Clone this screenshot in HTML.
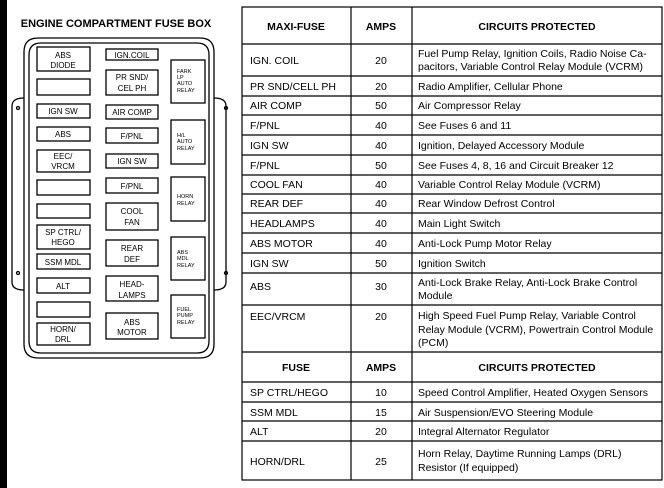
<!DOCTYPE html>
<html><head><meta charset="utf-8"><style>
html,body{margin:0;padding:0;background:#fff;}
svg{display:block;font-family:"Liberation Sans",Arial,sans-serif;}
</style></head><body>
<svg width="664" height="488" viewBox="0 0 664 488" xmlns="http://www.w3.org/2000/svg">
<rect x="0" y="0" width="7" height="488" fill="#000"/>
<text x="116" y="27" font-size="11" font-weight="bold" text-anchor="middle">ENGINE COMPARTMENT FUSE BOX</text>
<g fill="none" stroke="#000" stroke-width="1.3">
<path d="M38 38 H200 Q214 38 214 52 V344 Q214 358 200 358 H38 Q24 358 24 344 V52 Q24 38 38 38 Z"/>
<path d="M41 43 H197 Q209 43 209 55 V341 Q209 353 197 353 H41 Q29 353 29 341 V55 Q29 43 41 43 Z"/>
<path d="M24 98 Q12 98 12 106 V282 Q12 290 24 290"/>
<path d="M214 98 Q226 98 226 106 V282 Q226 290 214 290"/>
<circle cx="18" cy="108" r="1.5"/><circle cx="18" cy="273" r="1.5"/>
<circle cx="226" cy="108" r="1.5"/><circle cx="226" cy="273" r="1.5"/>
<!-- left col -->
<rect x="37" y="47" width="53" height="24"/>
<rect x="37" y="79" width="53" height="16"/>
<rect x="37" y="104" width="53" height="14"/>
<rect x="37" y="127" width="53" height="14"/>
<rect x="37" y="150" width="53" height="22"/>
<rect x="37" y="180" width="53" height="15"/>
<rect x="37" y="204" width="53" height="14"/>
<rect x="37" y="225" width="53" height="24"/>
<rect x="37" y="254" width="53" height="15"/>
<rect x="37" y="278" width="53" height="15"/>
<rect x="37" y="302" width="53" height="15"/>
<rect x="37" y="323" width="53" height="22"/>
<!-- mid col -->
<rect x="106" y="49" width="52" height="11"/>
<rect x="106" y="70" width="52" height="25"/>
<rect x="106" y="105" width="52" height="14"/>
<rect x="106" y="128" width="52" height="15"/>
<rect x="106" y="154" width="52" height="14"/>
<rect x="106" y="178" width="52" height="15"/>
<rect x="106" y="203" width="52" height="27"/>
<rect x="106" y="240" width="52" height="26"/>
<rect x="106" y="276" width="52" height="25"/>
<rect x="106" y="313" width="52" height="26"/>
<!-- relays -->
<rect x="171" y="60" width="34" height="43"/>
<rect x="171" y="120" width="34" height="44"/>
<rect x="171" y="177" width="34" height="44"/>
<rect x="171" y="237" width="34" height="43"/>
<rect x="171" y="295" width="34" height="43"/>
</g>
<g font-size="8" text-anchor="middle">
<text x="63" y="58">ABS</text><text x="63" y="68">DIODE</text>
<text x="63" y="114">IGN SW</text>
<text x="63" y="137">ABS</text>
<text x="63" y="159">EEC/</text><text x="63" y="169">VRCM</text>
<text x="63" y="235">SP CTRL/</text><text x="63" y="245">HEGO</text>
<text x="63" y="265">SSM MDL</text>
<text x="63" y="289">ALT</text>
<text x="63" y="332">HORN/</text><text x="63" y="342">DRL</text>
<text x="132" y="58">IGN.COIL</text>
<text x="132" y="80">PR SND/</text><text x="132" y="91">CEL PH</text>
<text x="132" y="115">AIR COMP</text>
<text x="132" y="139">F/PNL</text>
<text x="132" y="164">IGN SW</text>
<text x="132" y="189">F/PNL</text>
<text x="132" y="214">COOL</text><text x="132" y="225">FAN</text>
<text x="132" y="251">REAR</text><text x="132" y="262">DEF</text>
<text x="132" y="287">HEAD-</text><text x="132" y="298">LAMPS</text>
<text x="132" y="325">ABS</text><text x="132" y="335">MOTOR</text>
</g>
<g font-size="5.5">
<text x="177" y="73">FARK</text><text x="177" y="79">LP</text><text x="177" y="85">AUTO</text><text x="177" y="92">RELAY</text>
<text x="177" y="137">H/L</text><text x="177" y="143">AUTO</text><text x="177" y="150">RELAY</text>
<text x="177" y="198">HORN</text><text x="177" y="205">RELAY</text>
<text x="177" y="254">ABS</text><text x="177" y="260">MDL</text><text x="177" y="267">RELAY</text>
<text x="177" y="311">FUEL</text><text x="177" y="317">PUMP</text><text x="177" y="324">RELAY</text>
</g>
<!-- table -->
<g stroke="#000" stroke-width="1.2">
<rect x="242" y="7" width="420" height="473" fill="none"/>
<line x1="351" y1="7" x2="351" y2="480"/>
<line x1="412" y1="7" x2="412" y2="480"/>
<line x1="242" y1="44" x2="662" y2="44"/>
<line x1="242" y1="76" x2="662" y2="76"/>
<line x1="242" y1="96" x2="662" y2="96"/>
<line x1="242" y1="115" x2="662" y2="115"/>
<line x1="242" y1="135" x2="662" y2="135"/>
<line x1="242" y1="155" x2="662" y2="155"/>
<line x1="242" y1="175" x2="662" y2="175"/>
<line x1="242" y1="194" x2="662" y2="194"/>
<line x1="242" y1="213" x2="662" y2="213"/>
<line x1="242" y1="233" x2="662" y2="233"/>
<line x1="242" y1="253" x2="662" y2="253"/>
<line x1="242" y1="273" x2="662" y2="273"/>
<line x1="242" y1="305" x2="662" y2="305"/>
<line x1="242" y1="352" x2="662" y2="352"/>
<line x1="242" y1="382" x2="662" y2="382"/>
<line x1="242" y1="402" x2="662" y2="402"/>
<line x1="242" y1="421" x2="662" y2="421"/>
<line x1="242" y1="441" x2="662" y2="441"/>
</g>
<g font-size="10.5">
<g font-weight="bold" text-anchor="middle">
<text x="296" y="30">MAXI-FUSE</text><text x="381" y="30">AMPS</text><text x="537" y="30">CIRCUITS PROTECTED</text>
<text x="296" y="371">FUSE</text><text x="381" y="371">AMPS</text><text x="537" y="371">CIRCUITS PROTECTED</text>
</g>
<g>
<text x="250" y="64">IGN. COIL</text>
<text x="250" y="90">PR SND/CELL PH</text>
<text x="250" y="109">AIR COMP</text>
<text x="250" y="129">F/PNL</text>
<text x="250" y="149">IGN SW</text>
<text x="250" y="169">F/PNL</text>
<text x="250" y="188">COOL FAN</text>
<text x="250" y="207">REAR DEF</text>
<text x="250" y="227">HEADLAMPS</text>
<text x="250" y="247">ABS MOTOR</text>
<text x="250" y="267">IGN SW</text>
<text x="250" y="290">ABS</text>
<text x="250" y="320">EEC/VRCM</text>
<text x="250" y="396">SP CTRL/HEGO</text>
<text x="250" y="416">SSM MDL</text>
<text x="250" y="435">ALT</text>
<text x="250" y="465">HORN/DRL</text>
</g>
<g text-anchor="middle">
<text x="381" y="64">20</text><text x="381" y="90">20</text><text x="381" y="109">50</text>
<text x="381" y="129">40</text><text x="381" y="149">40</text><text x="381" y="169">50</text>
<text x="381" y="188">40</text><text x="381" y="207">40</text><text x="381" y="227">40</text>
<text x="381" y="247">40</text><text x="381" y="267">50</text><text x="381" y="290">30</text>
<text x="381" y="320">20</text>
<text x="381" y="396">10</text><text x="381" y="416">15</text><text x="381" y="435">20</text><text x="381" y="465">25</text>
</g>
<g>
<text x="418" y="57">Fuel Pump Relay, Ignition Coils, Radio Noise Ca-</text>
<text x="418" y="70">pacitors, Variable Control Relay Module (VCRM)</text>
<text x="418" y="90">Radio Amplifier, Cellular Phone</text>
<text x="418" y="109">Air Compressor Relay</text>
<text x="418" y="129">See Fuses 6 and 11</text>
<text x="418" y="149">Ignition, Delayed Accessory Module</text>
<text x="418" y="169">See Fuses 4, 8, 16 and Circuit Breaker 12</text>
<text x="418" y="188">Variable Control Relay Module (VCRM)</text>
<text x="418" y="207">Rear Window Defrost Control</text>
<text x="418" y="227">Main Light Switch</text>
<text x="418" y="247">Anti-Lock Pump Motor Relay</text>
<text x="418" y="267">Ignition Switch</text>
<text x="418" y="286">Anti-Lock Brake Relay, Anti-Lock Brake Control</text>
<text x="418" y="299">Module</text>
<text x="418" y="319">High Speed Fuel Pump Relay, Variable Control</text>
<text x="418" y="333">Relay Module (VCRM), Powertrain Control Module</text>
<text x="418" y="346">(PCM)</text>
<text x="418" y="396">Speed Control Amplifier, Heated Oxygen Sensors</text>
<text x="418" y="416">Air Suspension/EVO Steering Module</text>
<text x="418" y="435">Integral Alternator Regulator</text>
<text x="418" y="457">Horn Relay, Daytime Running Lamps (DRL)</text>
<text x="418" y="471">Resistor (If equipped)</text>
</g>
</g>
</svg>
</body></html>
